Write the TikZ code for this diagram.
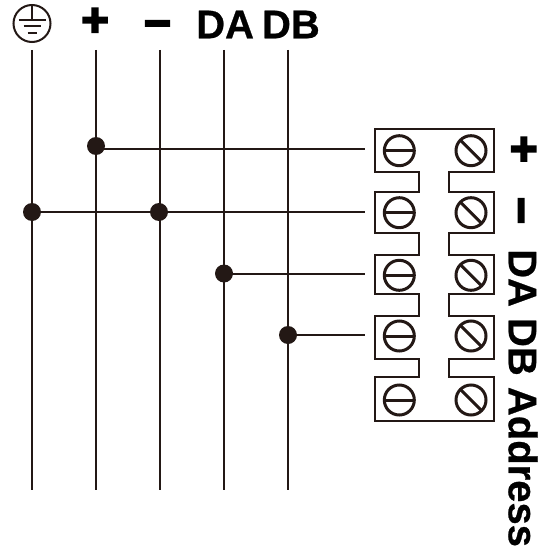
\documentclass[tikz,border=0pt]{standalone}
\usepackage{fontspec}
\setmainfont[BoldFeatures={FakeBold=0.6}]{Liberation Sans}
\newfontfamily\symfont[BoldFeatures={FakeBold=4}]{Liberation Sans}
\definecolor{ink}{HTML}{231815}
\tikzset{
  wire/.style={draw=ink,line width=2pt},
  blockline/.style={draw=ink,line width=2.2pt,line join=miter},
  screwc/.style={draw=ink,line width=3pt},
  dotn/.style={circle,fill=ink,inner sep=0pt,minimum size=18pt},
  lab/.style={text=black,inner sep=0pt,font=\bfseries\fontsize{40}{40}\selectfont},
  sym/.style={text=black,inner sep=0pt,font=\symfont\bfseries\fontsize{47}{47}\selectfont},
  gnd/.style={draw=ink,line width=2pt}
}
\begin{document}
\begin{tikzpicture}[x=1pt,y=-1pt]
\useasboundingbox (0,0) rectangle (550,551);
% bus lines
\foreach \n/\x in {g/32,p/96,m/160,a/224,b/288}{
  \coordinate (\n top) at (\x,50);
  \coordinate (\n bot) at (\x,490);
  \draw[wire] (\n top) -- (\n bot);
}
% junctions
\node[dotn] (dp) at (96,146) {};
\node[dotn] (dg) at (32,212) {};
\node[dotn] (dm) at (159,212) {};
\node[dotn] (da) at (224,273.5) {};
\node[dotn] (db) at (288,335) {};
\coordinate (tp) at (365,149);
\coordinate (tm) at (365,212);
\coordinate (ta) at (365,273.5);
\coordinate (tb) at (365,335);
\draw[wire] (dp.center) -- (dp.center |- tp) -- (tp);
\draw[wire] (dg) -- (tm);
\draw[wire] (da) -- (ta);
\draw[wire] (db) -- (tb);
% terminal block outline
\draw[blockline] (374.7,129.3) -- (493.7,129.3) -- (493.7,171.7) -- (448.7,171.7)
  -- (448.7,191.7) -- (493.7,191.7) -- (493.7,233.3) -- (448.7,233.3)
  -- (448.7,255) -- (493.7,255) -- (493.7,294.3) -- (448.7,294.3)
  -- (448.7,316) -- (493.7,316) -- (493.7,359.3) -- (448.7,359.3)
  -- (448.7,377.3) -- (493.7,377.3) -- (493.7,421.3) -- (374.7,421.3)
  -- (374.7,377.3) -- (419.3,377.3) -- (419.3,359.3) -- (374.7,359.3)
  -- (374.7,316) -- (419.3,316) -- (419.3,294.3) -- (374.7,294.3)
  -- (374.7,255) -- (419.3,255) -- (419.3,233.3) -- (374.7,233.3)
  -- (374.7,191.7) -- (419.3,191.7) -- (419.3,171.7) -- (374.7,171.7) -- cycle;
% screws
\foreach \y in {150.7,212.7,275.3,336,400}{
  \draw[screwc] (399.3,\y) circle (15pt);
  \draw[screwc] (384.3,\y) -- (414.3,\y);
  \draw[screwc] (471,\y) circle (15pt);
  \draw[screwc] (460.4,\y-10.6) -- (481.6,\y+10.6);
}
% ground symbol
\draw[gnd] (32,23.5) circle (18.5pt);
\draw[gnd] (32,6) -- (32,20);
\draw[gnd] (18.5,20.5) -- (45.5,20.5);
\draw[gnd] (23.5,26.5) -- (40.5,26.5);
\draw[gnd,line width=2.4pt] (27.5,33) -- (36.5,33);
% labels
\node[sym] (lp) at (95,22) {+};
\node[sym] (lm) at (157.5,30) {−};
\node[lab,anchor=west] (lda) at (196,24.5) {DA\hspace{-3pt} DB};
\node[sym,rotate=-90] (rp) at (522,149) {+};
\node[sym,rotate=-90] (rm) at (514.5,210.5) {−};
\node[lab,rotate=-90,anchor=west] (rt) at (523,249) {DA DB Address};
\end{tikzpicture}
\end{document}
